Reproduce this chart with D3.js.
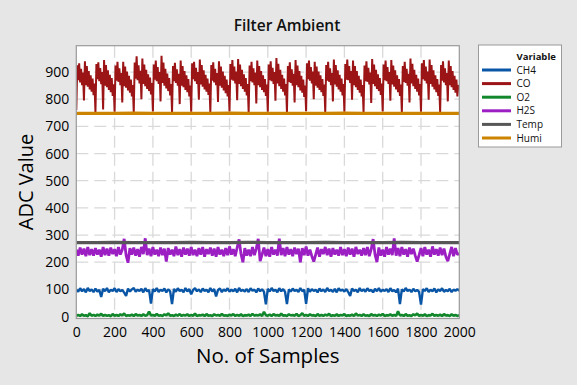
<!DOCTYPE html>
<html>
<head>
<meta charset="utf-8">
<script src="https://cdn.jsdelivr.net/npm/d3@7"></script>
<style>
  body { margin: 0; background: #e6e6e6; }
  svg { display: block; font-family: 'Open Sans', sans-serif; }
</style>
</head>
<body>
<div id="chart"></div>
<script>
// values (one sample every `step`)
const xTicks = [0, 200, 400, 600, 800, 1000, 1200, 1400, 1600, 1800, 2000];
const yTicks = [0, 100, 200, 300, 400, 500, 600, 700, 800, 900];
const variables = ['CH4', 'CO', 'O2', 'H2S', 'Temp', 'Humi'];
const colors = ['#0a56a6', '#9b1416', '#12872b', '#9b1fc3', '#575757', '#cc8400'];

// CO, every 5 samples
const co = [
  760, 925, 870, 932, 862, 912, 852, 898, 795, 940, 852, 922, 846, 904, 836, 888, 828, 876, 815, 858,
  752, 930, 874, 936, 866, 915, 855, 900, 762, 944, 850, 926, 844, 906, 834, 890, 826, 878, 812, 855,
  754, 924, 868, 938, 864, 914, 852, 896, 788, 938, 848, 920, 842, 902, 832, 886, 824, 872, 810, 852,
  752, 935, 876, 958, 870, 925, 858, 905, 800, 950, 856, 928, 848, 908, 838, 892, 830, 880, 818, 860,
  755, 928, 872, 942, 866, 918, 856, 900, 792, 960, 860, 935, 850, 912, 840, 894, 830, 878, 814, 856,
  752, 922, 866, 934, 860, 910, 850, 894, 782, 942, 850, 922, 844, 904, 834, 888, 826, 874, 810, 850,
  754, 932, 874, 938, 866, 916, 856, 900, 798, 946, 854, 926, 846, 906, 836, 890, 828, 876, 816, 858,
  752, 926, 868, 936, 862, 912, 852, 896, 790, 940, 850, 920, 842, 902, 832, 886, 822, 872, 810, 852,
  755, 930, 872, 944, 868, 920, 858, 902, 796, 948, 856, 928, 848, 908, 838, 892, 828, 878, 814, 856,
  752, 924, 866, 938, 862, 914, 852, 898, 784, 942, 852, 922, 844, 904, 834, 888, 826, 874, 812, 854,
  754, 928, 870, 940, 866, 916, 856, 900, 794, 952, 858, 930, 848, 908, 838, 890, 828, 876, 814, 856,
  752, 922, 864, 936, 860, 910, 850, 894, 788, 944, 852, 924, 844, 904, 832, 886, 824, 872, 808, 850,
  756, 932, 874, 942, 868, 918, 858, 902, 800, 938, 850, 920, 842, 902, 834, 888, 826, 874, 812, 854,
  752, 926, 868, 938, 864, 914, 852, 896, 792, 946, 854, 926, 846, 906, 836, 890, 828, 876, 814, 856,
  754, 930, 872, 946, 870, 922, 860, 904, 798, 942, 852, 922, 844, 904, 834, 886, 824, 872, 810, 852,
  752, 924, 866, 940, 864, 916, 854, 898, 786, 948, 856, 928, 848, 908, 838, 892, 830, 878, 816, 858,
  755, 928, 870, 942, 866, 918, 856, 900, 794, 944, 854, 924, 846, 906, 836, 888, 826, 874, 812, 854,
  752, 922, 864, 938, 860, 912, 850, 894, 788, 950, 858, 930, 848, 908, 838, 890, 828, 876, 814, 856,
  754, 932, 874, 944, 868, 920, 858, 902, 798, 946, 856, 926, 846, 906, 836, 888, 826, 874, 812, 854,
  752, 926, 868, 940, 862, 914, 852, 896, 792, 942, 852, 922, 844, 904, 834, 886, 824, 872, 810, 852,
  845
];

// H2S, every 10 samples
const h2s = [
  246, 224, 254, 228, 250, 222, 256, 226, 248, 224,
  252, 228, 246, 220, 256, 226, 250, 224, 254, 230,
  248, 222, 256, 228, 246, 286, 226, 198, 252, 228,
  254, 224, 248, 220, 256, 230, 288, 226, 250, 222,
  256, 228, 246, 222, 254, 226, 250, 202, 252, 228,
  246, 222, 258, 226, 248, 220, 254, 228, 250, 224,
  256, 226, 246, 222, 252, 228, 256, 220, 248, 230,
  254, 224, 250, 220, 256, 228, 246, 222, 252, 226,
  258, 228, 248, 222, 254, 284, 230, 200, 252, 224,
  246, 222, 256, 226, 250, 286, 204, 228, 254, 222,
  248, 220, 256, 228, 246, 224, 287, 226, 252, 222,
  256, 228, 248, 222, 254, 230, 250, 200, 252, 226,
  258, 224, 246, 222, 202, 228, 254, 220, 248, 230,
  256, 226, 250, 220, 252, 228, 246, 224, 256, 226,
  248, 222, 254, 228, 250, 220, 256, 230, 246, 224,
  252, 226, 256, 222, 248, 285, 228, 200, 254, 224,
  246, 220, 256, 228, 250, 226, 288, 224, 252, 222,
  256, 228, 248, 220, 254, 230, 250, 224, 202, 226,
  252, 222, 256, 228, 246, 220, 258, 228, 248, 224,
  254, 226, 250, 220, 204, 230, 256, 222, 252, 228,
  232
];

// CH4, every 10 samples
const ch4 = [
  99, 91, 104, 93, 101, 89, 105, 94, 100, 90,
  103, 92, 98, 72, 102, 93, 105, 89, 99, 94,
  104, 90, 101, 93, 98, 88, 76, 103, 92, 100,
  105, 91, 99, 94, 102, 89, 104, 93, 98, 48,
  101, 92, 105, 90, 99, 94, 103, 89, 100, 93,
  46, 102, 91, 104, 94, 99, 89, 105, 92, 101,
  82, 98, 104, 93, 100, 90, 103, 94, 99, 89,
  105, 92, 101, 74, 98, 103, 90, 100, 94, 104,
  91, 99, 93, 102, 89, 105, 94, 98, 92, 101,
  90, 104, 95, 99, 89, 103, 93, 100, 91, 45,
  102, 92, 105, 94, 99, 89, 104, 93, 101, 91,
  46, 100, 92, 103, 94, 98, 90, 105, 93, 99,
  47, 104, 91, 101, 94, 99, 89, 103, 93, 100,
  90, 105, 94, 98, 91, 102, 89, 104, 95, 99,
  92, 101, 90, 76, 103, 94, 99, 89, 105, 93,
  100, 91, 104, 94, 98, 89, 102, 93, 105, 91,
  99, 94, 101, 90, 104, 93, 98, 89, 103, 46,
  100, 92, 105, 94, 99, 90, 102, 93, 98, 91,
  44, 101, 94, 104, 90, 99, 93, 103, 89, 100,
  94, 104, 91, 98, 93, 102, 90, 99, 95, 101,
  95
];

// O2, every 10 samples
const o2 = [
  3, 6, 2, 8, 3, 5, 1, 12, 3, 6,
  2, 7, 4, 10, 2, 6, 3, 5, 1, 9,
  3, 6, 2, 8, 4, 11, 2, 5, 3, 7,
  2, 9, 4, 6, 2, 8, 3, 5, 18, 4,
  6, 2, 10, 3, 5, 2, 8, 4, 12, 3,
  5, 2, 7, 3, 9, 2, 6, 4, 8, 2,
  6, 3, 11, 2, 5, 4, 7, 2, 9, 3,
  5, 2, 8, 4, 6, 2, 10, 3, 5, 2,
  7, 4, 9, 2, 6, 3, 8, 2, 5, 4,
  7, 2, 10, 3, 6, 4, 8, 2, 17, 5,
  3, 7, 2, 9, 4, 6, 2, 11, 3, 5,
  2, 8, 4, 6, 3, 10, 2, 5, 12, 3,
  6, 2, 8, 4, 5, 2, 9, 3, 6, 2,
  7, 4, 10, 2, 5, 3, 8, 2, 6, 4,
  9, 2, 5, 3, 7, 2, 11, 4, 6, 2,
  8, 3, 5, 2, 9, 4, 6, 2, 7, 3,
  10, 2, 5, 4, 8, 3, 6, 2, 19, 4,
  6, 2, 9, 3, 5, 2, 8, 4, 11, 2,
  6, 3, 8, 2, 5, 4, 10, 2, 6, 3,
  7, 2, 9, 4, 5, 2, 8, 3, 6, 2,
  5
];

// Temp and Humi, every 100 samples
const temp = [272, 272, 273, 272, 272, 272, 273, 272, 272, 273, 272, 272, 272, 273, 272, 272, 272, 273, 272, 272, 272];
const humi = [748, 748, 748, 749, 748, 748, 748, 748, 749, 748, 748, 748, 748, 748, 749, 748, 748, 748, 748, 748, 748];

const series = [
  { name: 'CH4', values: ch4, step: 10, width: 2.4 },
  { name: 'CO', values: co, step: 5, width: 2 },
  { name: 'O2', values: o2, step: 10, width: 2.6 },
  { name: 'H2S', values: h2s, step: 10, width: 2.8 },
  { name: 'Temp', values: temp, step: 100, width: 3.2 },
  { name: 'Humi', values: humi, step: 100, width: 3.2 }
];

const W = 577, H = 385;
const plot = { left: 76.3, top: 45.7, right: 459.3, bottom: 318.5 };

const svg = d3.select('#chart')
  .append('svg')
    .attr('width', W)
    .attr('height', H);

svg.append('rect')
  .attr('width', W).attr('height', H)
  .attr('fill', '#e6e6e6');

const x = d3.scaleLinear().domain([0, 2000]).range([plot.left, plot.right]);
const y = d3.scaleLinear().domain([-7.3, 997]).range([plot.bottom, plot.top]);

svg.append('rect')
  .attr('x', plot.left).attr('y', plot.top)
  .attr('width', plot.right - plot.left).attr('height', plot.bottom - plot.top)
  .attr('fill', '#fff');

// dashed grid
const grid = svg.append('g')
  .attr('stroke', '#d9d9d9')
  .attr('stroke-width', 1.3)
  .attr('stroke-dasharray', '12,6');
grid.selectAll('.gx')
  .data(xTicks.slice(1, -1))
  .join('line')
    .attr('x1', d => x(d)).attr('x2', d => x(d))
    .attr('y1', plot.top).attr('y2', plot.bottom);
grid.selectAll('.gy')
  .data(yTicks)
  .join('line')
    .attr('x1', plot.left).attr('x2', plot.right)
    .attr('y1', d => y(d)).attr('y2', d => y(d));

svg.append('clipPath').attr('id', 'clip')
  .append('rect')
    .attr('x', plot.left).attr('y', plot.top)
    .attr('width', plot.right - plot.left).attr('height', plot.bottom - plot.top);

const lines = svg.append('g').attr('clip-path', 'url(#clip)');
series.forEach((s, i) => {
  const line = d3.line()
    .x((d, j) => x(j * s.step))
    .y(d => y(d));
  lines.append('path')
    .datum(s.values)
    .attr('fill', 'none')
    .attr('stroke', colors[i])
    .attr('stroke-width', s.width)
    .attr('stroke-linejoin', 'bevel')
    .attr('d', line);
});

// frame
svg.append('rect')
  .attr('x', plot.left).attr('y', plot.top)
  .attr('width', plot.right - plot.left).attr('height', plot.bottom - plot.top)
  .attr('fill', 'none')
  .attr('stroke', '#9a9a9a')
  .attr('stroke-width', 1.2);

// axes
const xAxis = svg.append('g')
  .attr('transform', `translate(0, ${plot.bottom})`)
  .call(d3.axisBottom(x).tickValues(xTicks).tickFormat(d3.format('d')).tickSize(0).tickPadding(9));
const yAxis = svg.append('g')
  .attr('transform', `translate(${plot.left}, 0)`)
  .call(d3.axisLeft(y).tickValues(yTicks).tickFormat(d3.format('d')).tickSize(0).tickPadding(7));
[xAxis, yAxis].forEach(a => {
  a.select('.domain').remove();
  a.attr('font-size', null).attr('font-family', null);
  a.selectAll('text')
    .attr('fill', '#000')
    .style('font-size', '14px');
});

svg.append('text')
  .attr('x', 287).attr('y', 31)
  .attr('text-anchor', 'middle')
  .style('font-size', '15.5px')
  .style('font-weight', 600)
  .attr('fill', '#111')
  .text('Filter Ambient');

svg.append('text')
  .attr('x', (plot.left + plot.right) / 2).attr('y', 363)
  .attr('text-anchor', 'middle')
  .style('font-size', '20.5px')
  .attr('fill', '#000')
  .text('No. of Samples');

svg.append('text')
  .attr('transform', 'translate(33, 182) rotate(-90)')
  .attr('text-anchor', 'middle')
  .style('font-size', '20px')
  .attr('fill', '#000')
  .text('ADC Value');

// legend
const legend = svg.append('g');
legend.append('rect')
  .attr('x', 478.5).attr('y', 45)
  .attr('width', 83).attr('height', 102)
  .attr('fill', '#fff')
  .attr('stroke', '#9a9a9a')
  .attr('stroke-width', 1);
legend.append('text')
  .attr('x', 516.5).attr('y', 60)
  .style('font-size', '9.5px')
  .style('font-weight', 700)
  .attr('fill', '#111')
  .text('Variable');
const rows = legend.selectAll('.row')
  .data(variables)
  .join('g')
    .attr('transform', (d, i) => `translate(0, ${70 + i * 13.6})`);
rows.append('line')
  .attr('x1', 482).attr('x2', 511)
  .attr('stroke', (d, i) => colors[i])
  .attr('stroke-width', 3);
rows.append('text')
  .attr('x', 516.5).attr('y', 3.5)
  .style('font-size', '10px')
  .attr('fill', '#111')
  .text(d => d);
</script>
</body>
</html>
